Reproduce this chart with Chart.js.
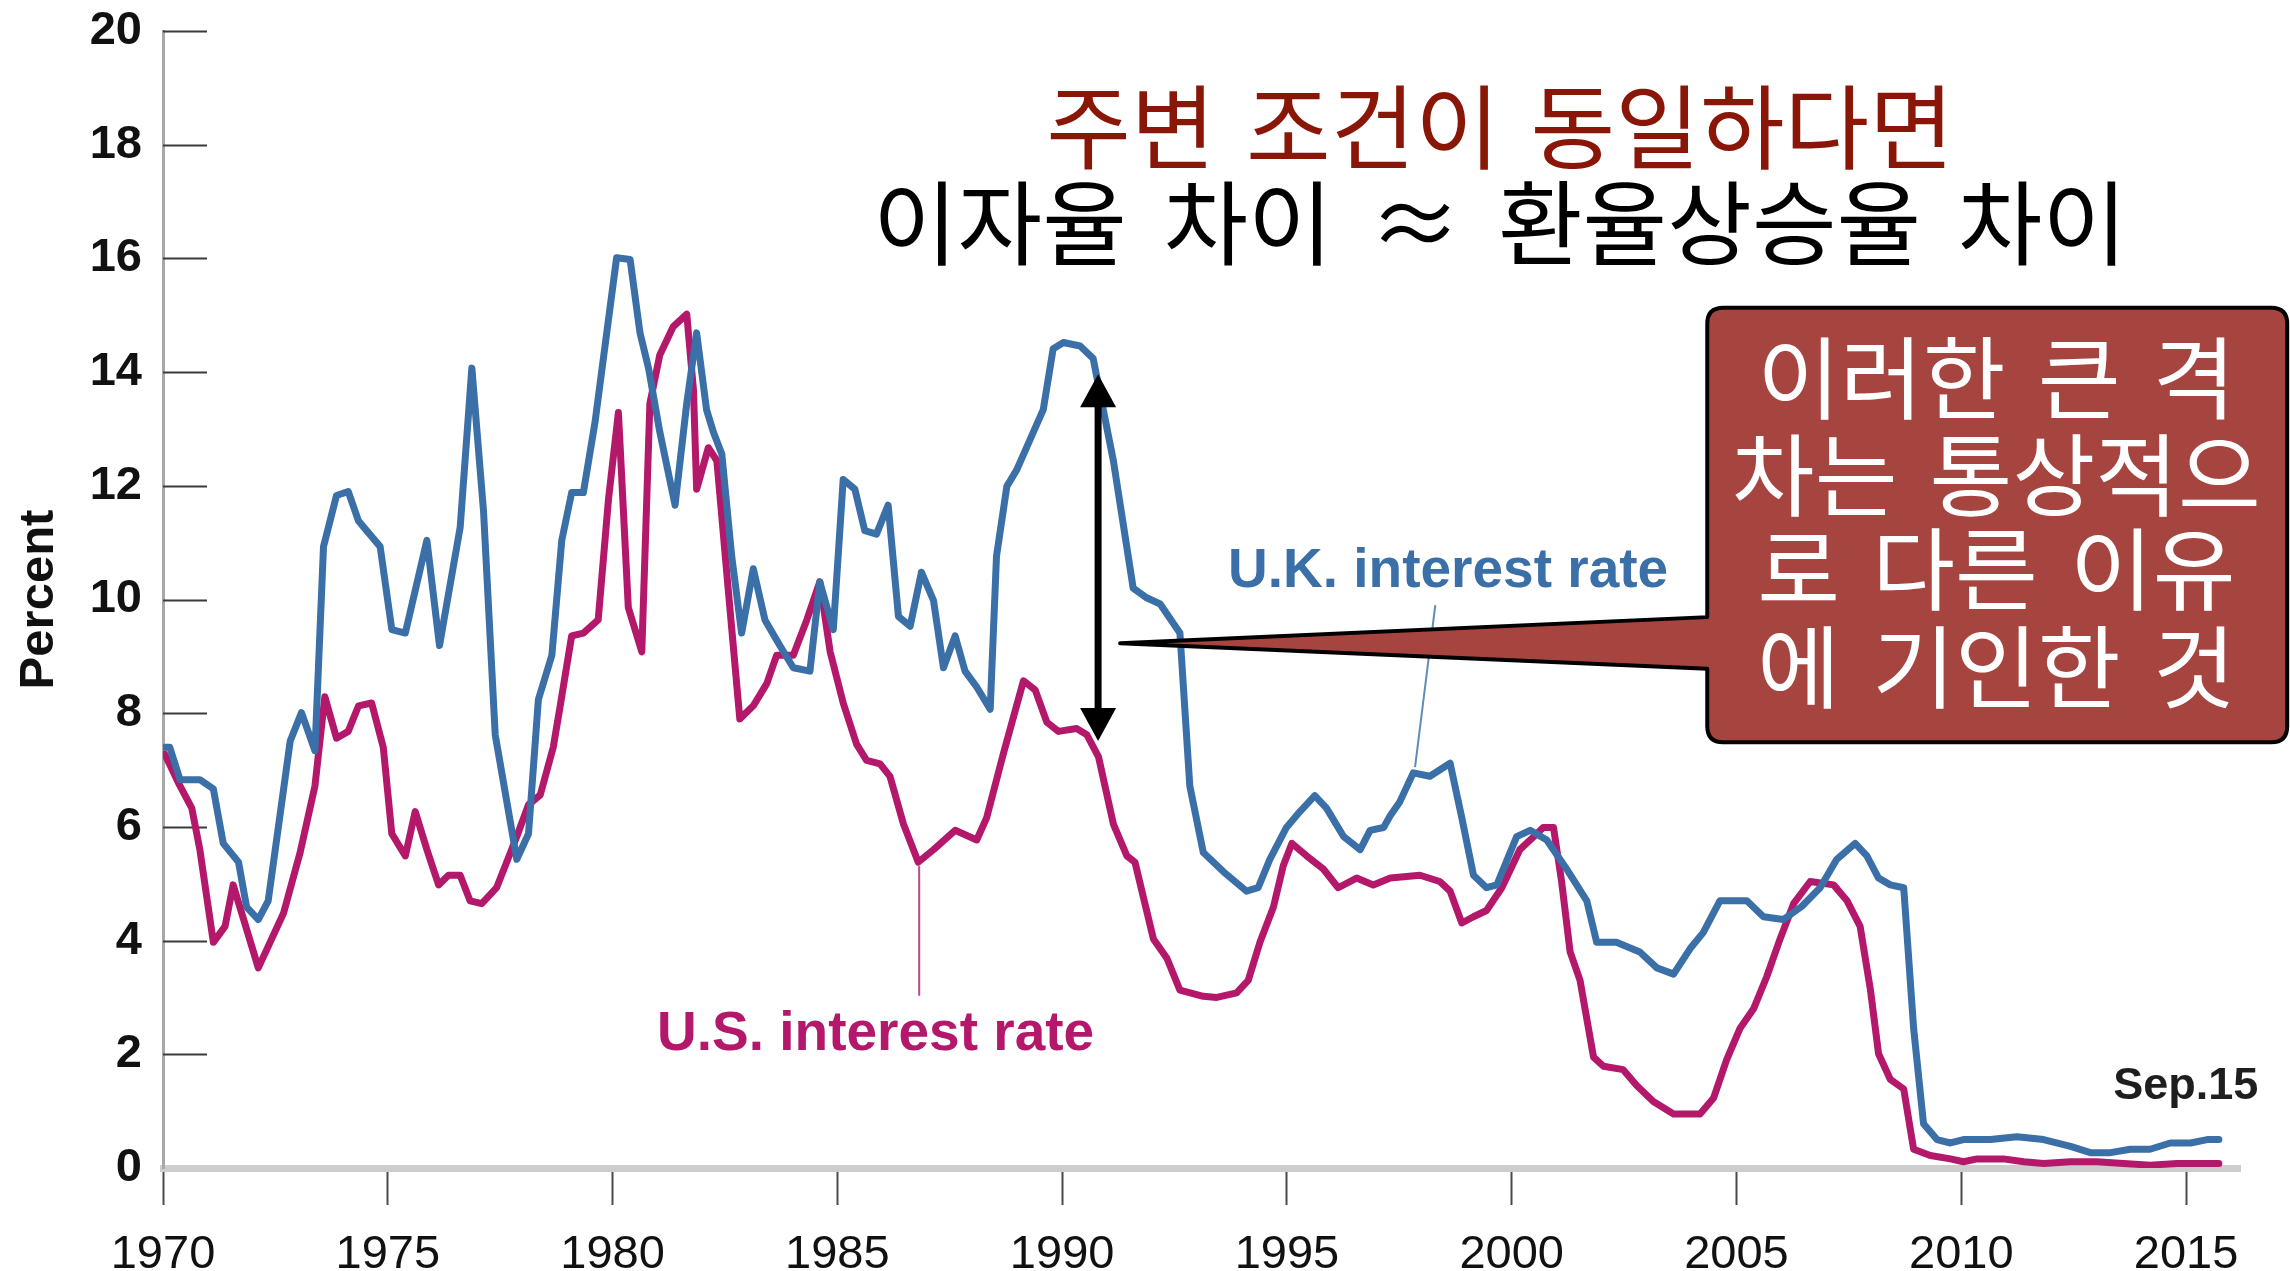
<!DOCTYPE html>
<html>
<head>
<meta charset="utf-8">
<script src="https://cdn.jsdelivr.net/npm/chart.js@4.4.1/dist/chart.umd.min.js"></script>
<style>
  html, body { margin: 0; padding: 0; background: #fff; }
  #wrap { width: 2290px; height: 1271px; position: relative; }
</style>
</head>
<body>
<div id="wrap"><canvas id="rateChart"></canvas></div>
<script>
// U.K. and U.S. interest rates
const ukYears = [1970.04, 1970.15, 1970.38, 1970.82, 1971.12, 1971.34, 1971.68, 1971.86, 1972.12, 1972.34,
  1972.83, 1973.08, 1973.38, 1973.57, 1973.86, 1974.12, 1974.35, 1974.83, 1975.09, 1975.39,
  1975.87, 1976.15, 1976.61, 1976.87, 1977.13, 1977.39, 1977.87, 1978.13, 1978.35, 1978.65,
  1978.87, 1979.09, 1979.35, 1979.61, 1979.87, 1980.09, 1980.39, 1980.61, 1980.80, 1981.05,
  1981.39, 1981.65, 1981.87, 1982.09, 1982.24, 1982.43, 1982.65, 1982.87, 1983.13, 1983.39,
  1983.72, 1984.02, 1984.39, 1984.61, 1984.91, 1985.13, 1985.39, 1985.61, 1985.87, 1986.13,
  1986.36, 1986.62, 1986.87, 1987.14, 1987.36, 1987.62, 1987.84, 1988.10, 1988.40, 1988.54,
  1988.77, 1988.99, 1989.58, 1989.80, 1990.03, 1990.40, 1990.69, 1991.14, 1991.58, 1991.88,
  1992.18, 1992.62, 1992.84, 1993.14, 1993.59, 1994.10, 1994.36, 1994.62, 1994.99, 1995.29,
  1995.62, 1995.88, 1996.26, 1996.63, 1996.85, 1997.15, 1997.30, 1997.51, 1997.81, 1998.18,
  1998.63, 1998.89, 1999.15, 1999.44, 1999.67, 2000.11, 2000.41, 2000.78, 2001.22, 2001.67,
  2001.89, 2002.33, 2002.85, 2003.23, 2003.60, 2003.97, 2004.26, 2004.63, 2005.23, 2005.60,
  2006.04, 2006.45, 2006.86, 2007.23, 2007.64, 2007.90, 2008.16, 2008.42, 2008.72, 2008.94,
  2009.16, 2009.46, 2009.76, 2010.05, 2010.65, 2011.24, 2011.83, 2012.43, 2012.87, 2013.32,
  2013.76, 2014.20, 2014.65, 2015.10, 2015.47, 2015.73];
const ukRates = [7.40, 7.40, 6.83, 6.83, 6.67, 5.71, 5.38, 4.59, 4.37, 4.70,
  7.51, 8.01, 7.34, 10.93, 11.83, 11.90, 11.38, 10.93, 9.47, 9.41,
  11.04, 9.19, 11.27, 14.07, 11.55, 7.62, 5.43, 5.88, 8.24, 9.02,
  11.04, 11.88, 11.88, 13.12, 14.69, 16.01, 15.98, 14.69, 14.07, 12.95,
  11.66, 13.45, 14.69, 13.34, 12.95, 12.56, 10.76, 9.41, 10.54, 9.64,
  9.19, 8.80, 8.74, 10.31, 9.47, 12.11, 11.94, 11.21, 11.15, 11.66,
  9.70, 9.53, 10.48, 9.98, 8.80, 9.36, 8.74, 8.46, 8.07, 10.76,
  11.99, 12.28, 13.34, 14.41, 14.52, 14.46, 14.24, 12.44, 10.20, 10.03,
  9.92, 9.41, 6.72, 5.55, 5.21, 4.87, 4.93, 5.43, 5.99, 6.27,
  6.55, 6.33, 5.83, 5.60, 5.94, 5.99, 6.20, 6.44, 6.95, 6.89,
  7.12, 6.16, 5.15, 4.93, 4.98, 5.83, 5.94, 5.77, 5.26, 4.70,
  3.97, 3.97, 3.80, 3.52, 3.41, 3.86, 4.14, 4.70, 4.70, 4.42,
  4.37, 4.60, 4.93, 5.43, 5.71, 5.49, 5.10, 4.98, 4.93, 2.46,
  0.78, 0.50, 0.44, 0.50, 0.50, 0.55, 0.50, 0.38, 0.27, 0.27,
  0.33, 0.33, 0.44, 0.44, 0.50, 0.50];

const usYears = [1970.04, 1970.34, 1970.64, 1970.82, 1971.12, 1971.38, 1971.56, 1972.12, 1972.68, 1973.05,
  1973.38, 1973.60, 1973.86, 1974.12, 1974.35, 1974.64, 1974.90, 1975.09, 1975.39, 1975.61,
  1975.87, 1976.13, 1976.35, 1976.61, 1976.83, 1977.09, 1977.42, 1977.87, 1978.13, 1978.39,
  1978.68, 1978.85, 1979.09, 1979.35, 1979.68, 1979.91, 1980.13, 1980.35, 1980.65, 1980.83,
  1981.05, 1981.35, 1981.65, 1981.80, 1981.87, 1982.13, 1982.32, 1982.57, 1982.83, 1983.13,
  1983.43, 1983.65, 1984.02, 1984.32, 1984.61, 1984.84, 1985.13, 1985.43, 1985.65, 1985.95,
  1986.17, 1986.47, 1986.80, 1987.14, 1987.62, 1988.10, 1988.32, 1988.69, 1989.14, 1989.40,
  1989.66, 1989.92, 1990.32, 1990.55, 1990.81, 1991.14, 1991.44, 1991.62, 1992.03, 1992.33,
  1992.62, 1993.14, 1993.44, 1993.88, 1994.14, 1994.40, 1994.70, 1994.92, 1995.11, 1995.44,
  1995.81, 1996.14, 1996.55, 1996.92, 1997.30, 1997.96, 1998.40, 1998.63, 1998.89, 1999.15,
  1999.44, 1999.78, 2000.18, 2000.56, 2000.70, 2000.93, 2001.11, 2001.30, 2001.52, 2001.82,
  2002.04, 2002.48, 2002.78, 2003.15, 2003.60, 2004.19, 2004.49, 2004.78, 2005.08, 2005.38,
  2005.67, 2005.97, 2006.27, 2006.64, 2007.16, 2007.46, 2007.75, 2007.98, 2008.16, 2008.42,
  2008.72, 2008.94, 2009.31, 2009.76, 2010.05, 2010.35, 2010.94, 2011.39, 2011.83, 2012.43,
  2013.02, 2013.61, 2014.20, 2014.80, 2015.73];
const usRates = [7.28, 6.78, 6.33, 5.60, 3.97, 4.25, 4.98, 3.52, 4.48, 5.55,
  6.72, 8.29, 7.56, 7.68, 8.13, 8.18, 7.40, 5.88, 5.49, 6.27,
  5.60, 4.98, 5.15, 5.15, 4.70, 4.65, 4.93, 5.83, 6.39, 6.56,
  7.40, 8.20, 9.36, 9.41, 9.64, 11.77, 13.29, 9.86, 9.08, 13.45,
  14.30, 14.80, 15.02, 13.68, 11.94, 12.67, 12.44, 10.20, 7.90, 8.13,
  8.52, 9.02, 9.02, 9.64, 10.31, 9.08, 8.18, 7.45, 7.17, 7.11,
  6.89, 6.05, 5.38, 5.60, 5.94, 5.77, 6.16, 7.28, 8.57, 8.41,
  7.84, 7.68, 7.73, 7.62, 7.23, 6.05, 5.49, 5.38, 4.03, 3.69,
  3.13, 3.02, 3.00, 3.08, 3.30, 3.97, 4.59, 5.32, 5.71, 5.49,
  5.26, 4.93, 5.10, 4.98, 5.10, 5.15, 5.04, 4.87, 4.31, 4.42,
  4.53, 4.93, 5.60, 5.88, 5.99, 5.99, 5.04, 3.80, 3.30, 1.95,
  1.79, 1.73, 1.45, 1.17, 0.95, 0.95, 1.23, 1.90, 2.46, 2.80,
  3.36, 4.03, 4.65, 5.04, 4.98, 4.70, 4.25, 3.13, 2.01, 1.56,
  1.39, 0.33, 0.22, 0.16, 0.11, 0.16, 0.16, 0.11, 0.08, 0.11,
  0.11, 0.08, 0.05, 0.08, 0.08];

const xTickStep = 5;
const yTickStep = 2;

const titleLine1 = "주변 조건이 동일하다면";
const titleLine2 = "이자율 차이 ≈ 환율상승율 차이";
const calloutLines = ["이러한 큰 격", "차는 통상적으", "로 다른 이유", "에 기인한 것"];
const ukLabel = "U.K. interest rate";
const usLabel = "U.S. interest rate";
const endLabel = "Sep.15";

const UK_COLOR = "#3a6fa7";
const US_COLOR = "#b3186b";
const KR_FONT = "'Noto Sans CJK KR', 'Noto Sans CJK SC', sans-serif";
const LAT_FONT = "'Liberation Sans', Arial, sans-serif";

function toPoints(xs, ys) {
  return xs.map((x, i) => ({ x, y: ys[i] }));
}

// short tick marks that sit inside the plot, right of the y axis
const innerTicks = {
  id: "innerTicks",
  beforeDatasetsDraw(chart) {
    const { ctx, scales: { y }, chartArea } = chart;
    ctx.save();
    ctx.strokeStyle = "#3a3a3a";
    ctx.lineWidth = 2;
    for (const t of y.ticks) {
      if (t.value === 0) continue;
      const py = Math.round(y.getPixelForValue(t.value)) + 0.5;
      ctx.beginPath();
      ctx.moveTo(chartArea.left, py);
      ctx.lineTo(chartArea.left + 44, py);
      ctx.stroke();
    }
    ctx.restore();
  }
};

function arrowHead(ctx, x, tipY, dir) {
  ctx.beginPath();
  ctx.moveTo(x, tipY);
  ctx.lineTo(x - 18, tipY + dir * 33);
  ctx.lineTo(x + 18, tipY + dir * 33);
  ctx.closePath();
  ctx.fill();
}

const notes = {
  id: "notes",
  afterDatasetsDraw(chart) {
    const { ctx, scales: { x, y } } = chart;
    const X = (v) => x.getPixelForValue(v);
    const Y = (v) => y.getPixelForValue(v);
    ctx.save();

    // leader lines and series labels
    ctx.lineWidth = 2;
    ctx.strokeStyle = "rgba(58,111,167,0.8)";
    ctx.beginPath();
    ctx.moveTo(X(1998.30), Y(9.90));
    ctx.lineTo(X(1997.85), Y(7.05));
    ctx.stroke();
    ctx.strokeStyle = "rgba(179,24,107,0.8)";
    ctx.beginPath();
    ctx.moveTo(X(1986.82), Y(3.03));
    ctx.lineTo(X(1986.82), Y(5.31));
    ctx.stroke();

    ctx.textAlign = "left";
    ctx.textBaseline = "alphabetic";
    ctx.font = `bold 55px ${LAT_FONT}`;
    ctx.fillStyle = UK_COLOR;
    ctx.fillText(ukLabel, X(1993.69), Y(10.22));
    ctx.fillStyle = US_COLOR;
    ctx.fillText(usLabel, X(1980.99), Y(2.08));

    ctx.font = `bold 45px ${LAT_FONT}`;
    ctx.fillStyle = "#1e1e1e";
    ctx.fillText(endLabel, X(2013.38), Y(1.21));

    // titles
    ctx.textAlign = "center";
    ctx.textBaseline = "middle";
    ctx.font = `92px ${KR_FONT}`;
    ctx.fillStyle = "#8a1608";
    ctx.wordSpacing = "10px";
    ctx.fillText(titleLine1, X(1999.74), Y(18.31));
    ctx.fillStyle = "#000";
    ctx.wordSpacing = "16px";
    ctx.fillText(titleLine2, X(1999.74), Y(16.62));

    // double arrow showing the gap
    const ax = X(1990.80);
    const top = Y(13.96);
    const bottom = Y(7.51);
    ctx.fillStyle = "#000";
    ctx.strokeStyle = "#000";
    ctx.lineWidth = 7;
    ctx.beginPath();
    ctx.moveTo(ax, top + 20);
    ctx.lineTo(ax, bottom - 20);
    ctx.stroke();
    arrowHead(ctx, ax, top, 1);
    arrowHead(ctx, ax, bottom, -1);

    // callout box with pointer
    const bl = X(2004.35), br = X(2017.25), bt = Y(15.13), bb = Y(7.49);
    const r = 16;
    ctx.beginPath();
    ctx.moveTo(bl + r, bt);
    ctx.lineTo(br - r, bt);
    ctx.quadraticCurveTo(br, bt, br, bt + r);
    ctx.lineTo(br, bb - r);
    ctx.quadraticCurveTo(br, bb, br - r, bb);
    ctx.lineTo(bl + r, bb);
    ctx.quadraticCurveTo(bl, bb, bl, bb - r);
    ctx.lineTo(bl, Y(8.78));
    ctx.lineTo(X(1991.29), Y(9.23));
    ctx.lineTo(bl, Y(9.69));
    ctx.lineTo(bl, bt + r);
    ctx.quadraticCurveTo(bl, bt, bl + r, bt);
    ctx.closePath();
    ctx.fillStyle = "#a6443f";
    ctx.fill();
    ctx.lineWidth = 4;
    ctx.lineJoin = "round";
    ctx.strokeStyle = "#000";
    ctx.stroke();

    ctx.fillStyle = "#fff";
    ctx.font = `90px ${KR_FONT}`;
    ctx.wordSpacing = "12px";
    const lineVals = [13.90, 12.19, 10.54, 8.81];
    calloutLines.forEach((line, i) => {
      ctx.fillText(line, X(2010.78), Y(lineVals[i]));
    });
    ctx.wordSpacing = "0px";

    ctx.restore();
  }
};

new Chart(document.getElementById("rateChart"), {
  type: "line",
  data: {
    datasets: [
      {
        label: "U.K. interest rate",
        data: toPoints(ukYears, ukRates),
        borderColor: UK_COLOR,
        borderWidth: 7,
        borderJoinStyle: "round",
        borderCapStyle: "round",
        pointRadius: 0,
        tension: 0
      },
      {
        label: "U.S. interest rate",
        data: toPoints(usYears, usRates),
        borderColor: US_COLOR,
        borderWidth: 7,
        borderJoinStyle: "round",
        borderCapStyle: "round",
        pointRadius: 0,
        tension: 0
      }
    ]
  },
  options: {
    responsive: true,
    maintainAspectRatio: false,
    animation: false,
    layout: { padding: { top: 31, right: 50, left: 0, bottom: 0 } },
    plugins: { legend: { display: false }, tooltip: { enabled: false } },
    scales: {
      x: {
        type: "linear",
        min: 1970,
        max: 2016.2,
        afterFit: (scale) => {
          scale.height = 103;
          scale.paddingLeft = 0;
          scale.paddingRight = 0;
        },
        border: { display: true, color: "#cdcdcd", width: 7 },
        grid: { drawOnChartArea: false, drawTicks: true, tickLength: 37, tickColor: "#4a4a4a", tickWidth: 2 },
        ticks: {
          stepSize: xTickStep,
          includeBounds: false,
          padding: 22,
          maxRotation: 0,
          color: "#111",
          font: { family: LAT_FONT, size: 47 },
          callback: (v) => String(v)
        }
      },
      y: {
        min: 0,
        max: 20,
        afterFit: (scale) => {
          scale.width = 163;
          scale.paddingTop = 0;
          scale.paddingBottom = 0;
        },
        border: { display: true, color: "#a8a8a8", width: 3 },
        grid: { drawOnChartArea: false, drawTicks: false },
        title: {
          display: true,
          text: "Percent",
          color: "#111",
          font: { family: LAT_FONT, size: 49, weight: "bold" },
          padding: { top: 10, bottom: 0 }
        },
        ticks: {
          stepSize: yTickStep,
          padding: 21,
          color: "#111",
          font: { family: LAT_FONT, size: 47, weight: "bold" }
        }
      }
    }
  },
  plugins: [innerTicks, notes]
});
</script>
</body>
</html>
